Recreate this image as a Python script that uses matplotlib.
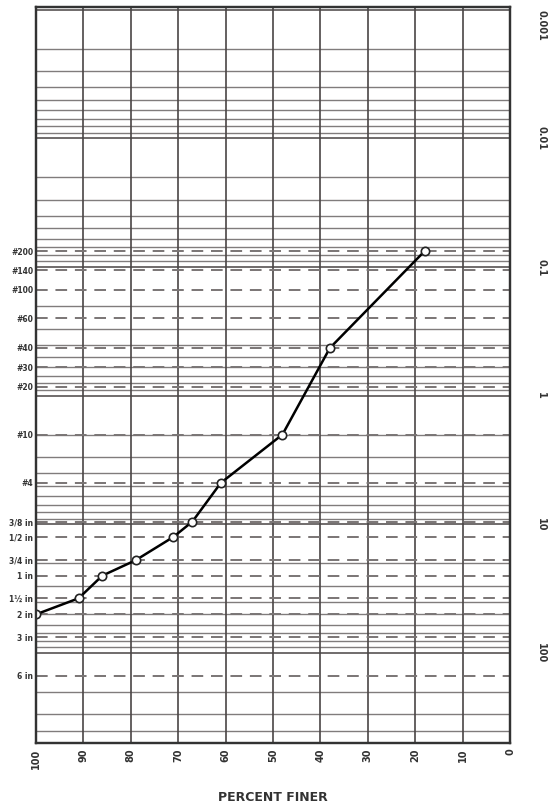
import matplotlib; matplotlib.use('Agg')
import matplotlib.pyplot as plt
import numpy as np

# ---- data ---------------------------------------------------------------------
percent_ticks = [100, 90, 80, 70, 60, 50, 40, 30, 20, 10, 0]
size_ticks = [0.001, 0.01, 0.1, 1, 10, 100]
size_tick_labels = ['0.001', '0.01', '0.1', '1', '10', '100']

sieve_labels = ['#200', '#140', '#100', '#60', '#40', '#30', '#20', '#10', '#4',
                '3/8 in', '1/2 in', '3/4 in', '1 in', '1½ in', '2 in', '3 in', '6 in']
sieve_mm = [0.075, 0.106, 0.15, 0.25, 0.425, 0.6, 0.85, 2.0, 4.75,
            9.5, 12.5, 19.0, 25.0, 37.5, 50.0, 75.0, 150.0]

# measured gradation (grain size mm, percent finer)
grain_mm = [0.075, 0.425, 2.0, 4.75, 9.5, 12.5, 19.0, 25.0, 37.5, 50.0]
pct_finer = [18, 38, 48, 61, 67, 71, 79, 86, 91, 100]

GRID = '#4a4545'
DASH = '#7a7575'

fig = plt.figure(figsize=(5.51, 8.10), dpi=100)
ax = fig.add_axes([0.0653, 0.0827, 0.8603, 0.9087])

ax.set_yscale('log')
ax.set_ylim(500, 0.00095)
ax.set_xlim(100, 0)

# log grid: decades and 2..9 in each decade
for dec in [0.001, 0.01, 0.1, 1, 10, 100]:
    for m in range(1, 10):
        v = dec * m
        if v > 500:
            break
        ax.axhline(v, color=GRID, lw=1.3 if m == 1 else 1.0, alpha=0.85 if m == 1 else 0.7, zorder=1)

# sieve sizes as dashed lines
for s in sieve_mm:
    ax.axhline(s, color=DASH, lw=1.4, ls=(0, (6, 4)), zorder=1.5)

# vertical percent lines
for p in percent_ticks:
    ax.axvline(p, color=GRID, lw=1.2, zorder=1)

ax.plot(pct_finer, grain_mm, color='black', lw=1.8, zorder=3,
        marker='o', ms=6, mfc='white', mec='#222222', mew=1.2)

# bottom: percent finer
ax.set_xticks(percent_ticks)
ax.set_xticklabels([str(p) for p in percent_ticks], rotation=90, fontsize=7,
                   fontweight='bold', color='#333333')
ax.tick_params(axis='x', length=0, pad=4)
ax.set_xlabel('PERCENT FINER', fontsize=9, fontweight='bold', color='#333333', labelpad=16)

# left: sieve designations
ax.set_yticks(sieve_mm)
ax.set_yticklabels(sieve_labels, fontsize=5.5, fontweight='bold', color='#333333')
ax.minorticks_off()
ax.tick_params(axis='y', length=0, pad=2)

# right: grain size in mm
ax2 = ax.twinx()
ax2.set_yscale('log')
ax2.set_ylim(ax.get_ylim())
ax2.set_yticks(size_ticks)
ax2.set_yticklabels(size_tick_labels, rotation=-90, fontsize=7, fontweight='bold',
                    color='#333333', va='center')
ax2.minorticks_off()
ax2.tick_params(axis='y', length=0, pad=19)
lbl = ax2.get_yticklabels()[0]
lbl.set_va('top')

for a in (ax, ax2):
    for sp in a.spines.values():
        sp.set_color('#333333')
        sp.set_linewidth(1.6)

fig.savefig('out.png', dpi=100)
